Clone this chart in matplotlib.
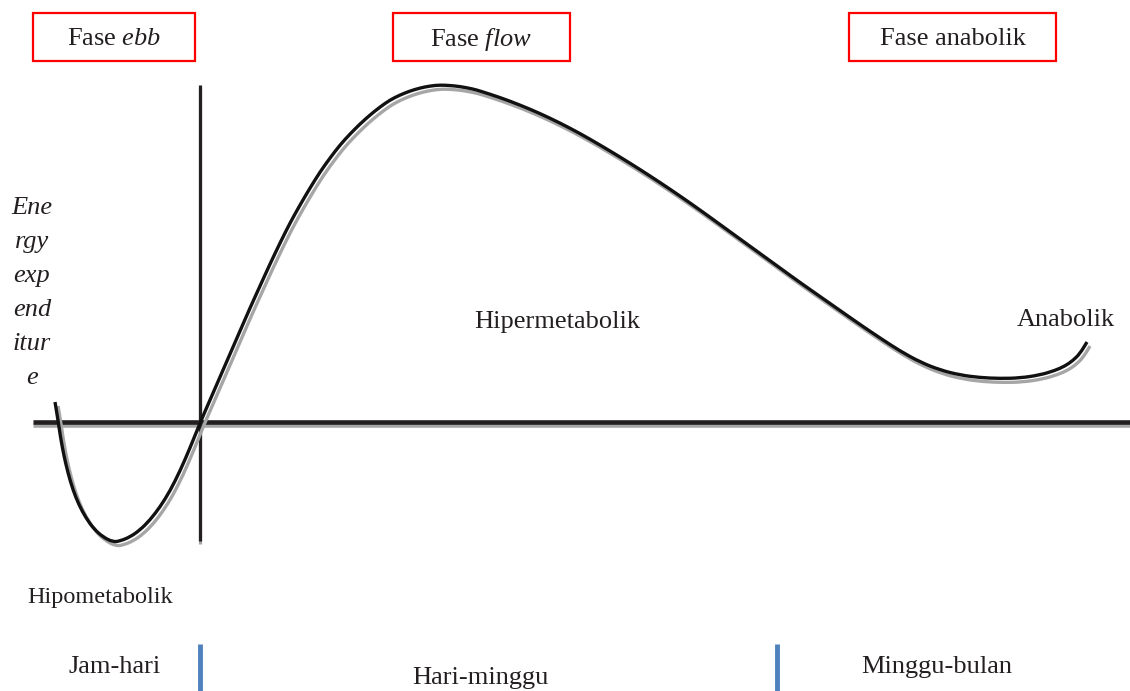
import matplotlib
matplotlib.use("Agg")
import matplotlib.pyplot as plt
import matplotlib.patheffects as pe
from matplotlib.patches import Rectangle, PathPatch
from matplotlib.path import Path

plt.rcParams['font.family'] = ['Liberation Serif', 'DejaVu Serif']
plt.rcParams['mathtext.fontset'] = 'custom'
plt.rcParams['mathtext.rm'] = 'Liberation Serif'
plt.rcParams['mathtext.it'] = 'Liberation Serif:italic'

# ---- data (diagram coordinates, pixel-like space, y downwards) ----
curve_x = [55, 57, 59, 61, 64, 68, 73, 79, 86, 94, 103, 113, 120, 130, 140, 150, 160, 170, 180, 190,
           200, 210, 220, 230, 240, 250, 260, 270, 280, 290, 300, 310, 320, 330, 340, 350, 360,
           370, 380, 390, 400, 410, 420, 430, 440, 450, 460, 473, 480, 500, 520, 540, 560, 580,
           600, 620, 640, 660, 680, 700, 720, 740, 760, 780, 800, 820, 840, 860, 880, 900, 920,
           940, 960, 980, 1000, 1020, 1040, 1055, 1065, 1073, 1080, 1087]
curve_y = [402, 414, 427, 440, 456, 473, 490, 505, 518, 529, 537, 542, 541, 537, 530, 520, 507, 491, 471, 448,
           423, 400, 377, 354, 331, 308, 286, 264, 243, 223, 205, 188, 172, 158, 145, 134, 124,
           115, 107, 100, 95, 91, 88, 86, 85, 85.5, 86.5, 89, 91, 97.5, 105, 113.5, 123, 133.5,
           145, 157, 169.5, 182.5, 196, 210, 224.5, 239, 253.5, 268, 282.5, 296.5, 310.5, 324.5, 338, 351, 362,
           370, 375, 377.6, 378.5, 378, 375, 370.5, 366, 360.5, 353.5, 342]

baseline_y = 421.5
baseline_x = [33, 1130]
onset_x = 200
onset_y = [85, 541]

phase_labels = ["Fase $\\mathit{ebb}$", "Fase $\\mathit{flow}$", "Fase anabolik"]
phase_boxes = [(33, 195), (393, 570), (849, 1056)]

time_labels = ["Jam-hari", "Hari-minggu", "Minggu-bulan"]
time_label_x = [115, 480, 937]
time_label_y = [667, 678, 667]
time_dividers = [200, 777]

state_labels = ["Hipometabolik", "Hipermetabolik", "Anabolik"]
state_pos = [(100, 597), (557, 322), (1066, 320)]

y_label_lines = ["Ene", "rgy", "exp", "end", "itur", "e"]

TXT = '#231f20'
SHADOW = '#a6a6a6'

fig = plt.figure(figsize=(11.3, 6.91), dpi=100)
ax = fig.add_axes([0, 0, 1, 1])
ax.set_xlim(0, 1130)
ax.set_ylim(691, 0)
ax.axis('off')

# horizontal baseline
ax.plot(baseline_x, [baseline_y, baseline_y], color='#231f20', lw=3.3,
        solid_capstyle='butt',
        path_effects=[pe.SimpleLineShadow(offset=(0, -2.8), shadow_color=SHADOW, alpha=1.0), pe.Normal()],
        zorder=3)
# vertical onset line
ax.plot([onset_x, onset_x], onset_y, color='#231f20', lw=2.3, solid_capstyle='butt',
        path_effects=[pe.SimpleLineShadow(offset=(0, -2.5), shadow_color=SHADOW, alpha=1.0), pe.Normal()],
        zorder=3)

# main curve: read points joined by smooth quadratic Bezier segments (matplotlib Path)
pts = list(zip(curve_x, curve_y))
verts = [pts[0], ((pts[0][0] + pts[1][0]) / 2, (pts[0][1] + pts[1][1]) / 2)]
codes = [Path.MOVETO, Path.LINETO]
for i in range(1, len(pts) - 1):
    nxt = ((pts[i][0] + pts[i + 1][0]) / 2, (pts[i][1] + pts[i + 1][1]) / 2)
    verts += [pts[i], nxt]
    codes += [Path.CURVE3, Path.CURVE3]
verts.append(pts[-1])
codes.append(Path.LINETO)
curve = PathPatch(Path(verts, codes), fill=False, edgecolor='#111111', lw=2.4, capstyle='butt',
                  joinstyle='round', zorder=4,
                  path_effects=[pe.SimpleLineShadow(offset=(2.2, -2.9), shadow_color=SHADOW, alpha=1.0),
                                pe.Normal()])
ax.add_patch(curve)

# phase boxes
for (x0, x1), lab in zip(phase_boxes, phase_labels):
    ax.add_patch(Rectangle((x0, 13), x1 - x0, 48, fill=False, edgecolor='#ff0000', lw=1.6, zorder=5))
    ax.text((x0 + x1) / 2, 39, lab, ha='center', va='center', fontsize=19, color=TXT, zorder=6)

# state labels
for lab, (x, y) in zip(state_labels, state_pos):
    fs = 17.5 if lab == "Hipometabolik" else 19
    ax.text(x, y, lab, ha='center', va='center', fontsize=fs, color=TXT)

# y-label
ax.text(32, 293, "\n".join(y_label_lines), ha='center', va='center', multialignment='center',
        fontsize=19, style='italic', color=TXT, linespacing=1.7)

# time labels and dividers
for lab, x, y in zip(time_labels, time_label_x, time_label_y):
    ax.text(x, y, lab, ha='center', va='center', fontsize=19, color=TXT)
for x in time_dividers:
    ax.plot([x, x], [644, 691], color='#4f81bd', lw=3.5, solid_capstyle='butt')

fig.savefig("out.png", dpi=100)
